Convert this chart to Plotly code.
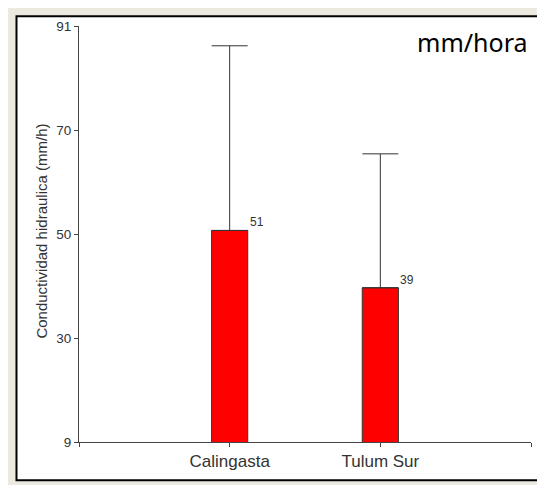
import plotly.graph_objects as go

# data
sites = ['Calingasta', 'Tulum Sur']
means = [50.7, 39.4]
upper_err = [36.4, 26.4]
value_labels = ['51', '39']

y_tickvals = [9, 29.5, 50, 70.5, 91]
y_ticktext = ['9', '30', '50', '70', '91']

font = 'Liberation Sans, Arial, sans-serif'
ink = '#333333'

fig = go.Figure()

fig.add_trace(
    go.Bar(
        x=sites,
        y=means,
        width=0.24,
        marker={'color': '#ff0000', 'line': {'color': ink, 'width': 1}},
        error_y={
            'type': 'data',
            'symmetric': False,
            'array': upper_err,
            'arrayminus': [0] * len(means),
            'color': ink,
            'thickness': 1,
            'width': 18,
        },
        showlegend=False,
        hoverinfo='skip',
    )
)

for site, m, lab in zip(sites, means, value_labels):
    fig.add_annotation(
        x=site, y=m, text=lab, showarrow=False,
        xanchor='left', yanchor='middle', xshift=18, yshift=8,
        font={'family': font, 'size': 12, 'color': ink},
    )

# y-axis title, placed by hand
fig.add_annotation(
    xref='paper', yref='paper', x=-0.082, y=0.508,
    text='Conductividad hidraulica (mm/h)', textangle=-90, showarrow=False,
    xanchor='center', yanchor='middle',
    font={'family': font, 'size': 15, 'color': ink},
)

fig.add_annotation(
    xref='paper', yref='paper', x=0.87, y=0.962,
    text='mm/hora', showarrow=False, xanchor='center', yanchor='middle',
    font={'family': 'Noto Sans, Open Sans, sans-serif', 'size': 25, 'color': '#000000'},
)

# slide frame
fig.add_shape(
    type='rect', xref='paper', yref='paper',
    x0=-0.1383, x1=1.06, y0=-0.0922, y1=1.0236,
    line={'color': 'black', 'width': 2}, fillcolor='white', layer='below',
)

fig.update_xaxes(
    range=[-1, 2],
    tickmode='array', tickvals=[-1, 0, 1, 2], ticktext=['', sites[0], sites[1], ''],
    showline=True, linecolor='#444444', linewidth=1,
    ticks='outside', ticklen=4, tickcolor='#444444',
    showgrid=False, zeroline=False,
    tickfont={'family': font, 'size': 17, 'color': ink},
)
fig.update_yaxes(
    range=[9, 91],
    tickmode='array', tickvals=y_tickvals, ticktext=y_ticktext,
    showline=True, linecolor='#444444', linewidth=1,
    ticks='outside', ticklen=4, tickcolor='#444444',
    showgrid=False, zeroline=False,
    tickfont={'family': font, 'size': 13.5, 'color': ink},
)

# page body adds an 8px offset, so the figure is 8px smaller and shifted up/left
fig.update_layout(
    width=537,
    height=477,
    autosize=False,
    margin={'l': 71, 'r': 14, 't': 11, 'b': 43},
    paper_bgcolor='#ece9e1',
    plot_bgcolor='white',
)

fig.write_html('out.html')
